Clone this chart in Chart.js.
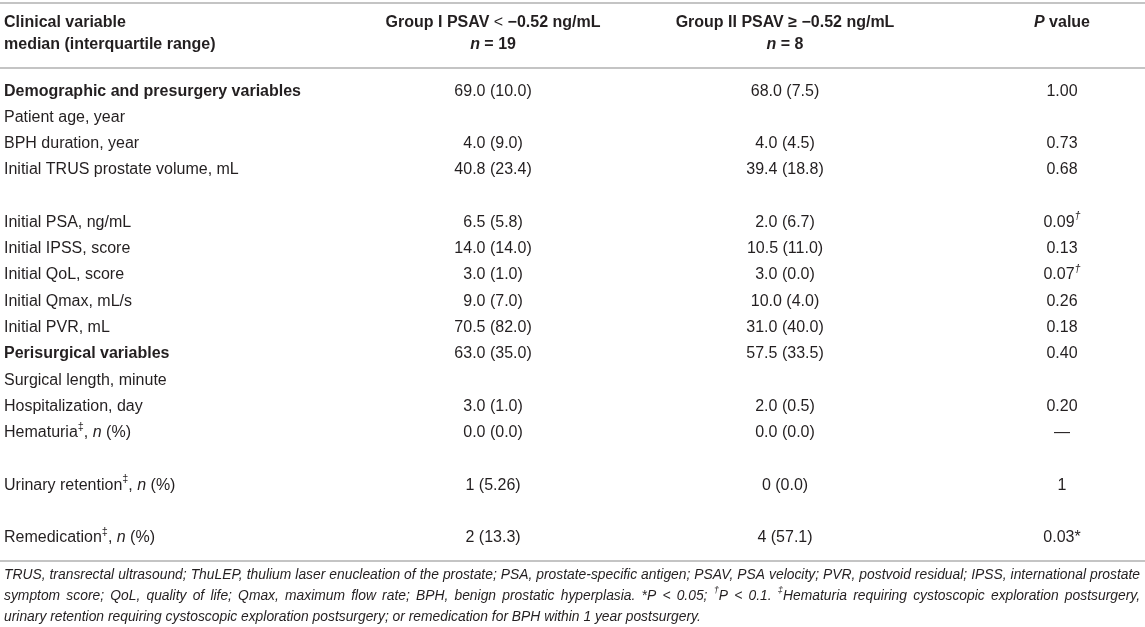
<!DOCTYPE html>
<html>
<head>
<meta charset="utf-8">
<script src="https://cdn.jsdelivr.net/npm/chart.js@4.4.1/dist/chart.umd.min.js"></script>
<style>
  html, body { margin: 0; padding: 0; background: #ffffff; }
  #wrap { width: 1145px; height: 627px; }
</style>
</head>
<body>
<div id="wrap"><canvas id="c" width="1145" height="627"></canvas></div>
<script>
// ---------------- DATA ----------------
// Markup: ~bold toggle~, _italic toggle_, ^superscript^
const columnHeaders = [
  ['Clinical variable', 'median (interquartile range)'],
  ['Group I PSAV ~<~ \u22120.52 ng/mL', '_n_ = 19'],
  ['Group II PSAV \u2265 \u22120.52 ng/mL', '_n_ = 8'],
  ['_P_ value']
];

const variableLabels = [
  ['~Demographic and presurgery variables~', 'Patient age, year'],
  ['BPH duration, year'],
  ['Initial TRUS prostate volume, mL'],
  ['Initial PSA, ng/mL'],
  ['Initial IPSS, score'],
  ['Initial QoL, score'],
  ['Initial Qmax, mL/s'],
  ['Initial PVR, mL'],
  ['~Perisurgical variables~', 'Surgical length, minute'],
  ['Hospitalization, day'],
  ['Hematuria^\u2021^, _n_ (%)'],
  ['Urinary retention^\u2021^, _n_ (%)'],
  ['Remedication^\u2021^, _n_ (%)']
];

const groupI = ['69.0 (10.0)', '4.0 (9.0)', '40.8 (23.4)', '6.5 (5.8)', '14.0 (14.0)', '3.0 (1.0)',
  '9.0 (7.0)', '70.5 (82.0)', '63.0 (35.0)', '3.0 (1.0)', '0.0 (0.0)', '1 (5.26)', '2 (13.3)'];

const groupII = ['68.0 (7.5)', '4.0 (4.5)', '39.4 (18.8)', '2.0 (6.7)', '10.5 (11.0)', '3.0 (0.0)',
  '10.0 (4.0)', '31.0 (40.0)', '57.5 (33.5)', '2.0 (0.5)', '0.0 (0.0)', '0 (0.0)', '4 (57.1)'];

const pValues = ['1.00', '0.73', '0.68', '0.09^_\u2020_^', '0.13', '0.07^_\u2020_^', '0.26', '0.18',
  '0.40', '0.20', '\u2014', '1', '0.03*'];

const footnoteLines = [
  'TRUS, transrectal ultrasound; ThuLEP, thulium laser enucleation of the prostate; PSA, prostate-specific antigen; PSAV, PSA velocity; PVR, postvoid residual; IPSS, international prostate',
  'symptom score; QoL, quality of life; Qmax, maximum flow rate; BPH, benign prostatic hyperplasia. *P < 0.05; ^\u2020^P < 0.1. ^\u2021^Hematuria requiring cystoscopic exploration postsurgery,',
  'urinary retention requiring cystoscopic exploration postsurgery; or remedication for BPH within 1 year postsurgery.'
];

// ---------------- LAYOUT ----------------
const layout = {
  rowLines: [2, 1, 2, 1, 1, 1, 1, 1, 2, 1, 2, 2, 1],   // text lines occupied by each table row
  colAnchor: [0.0035, 0.4306, 0.6856, 0.9275],          // fraction of table width
  colAlign: ['left', 'center', 'center', 'center'],
  font: 'Liberation Sans, Arial, Helvetica, sans-serif',
  bodySize: 16,
  headSize: 16,
  noteSize: 13.85,
  noteWidth: 1136,
  textColor: '#231f20',
  ruleColor: '#c4c4c4'
};

const rowStart = [];
{ let s = 0; layout.rowLines.forEach(n => { rowStart.push(s); s += n; }); }
const totalLines = layout.rowLines.reduce((a, b) => a + b, 0);

// ---------------- RICH TEXT ----------------
function parseRich(str, bold) {
  const segs = [];
  let cur = { t: '', b: bold, i: false, s: false };
  const push = () => { if (cur.t) segs.push(cur); cur = { t: '', b: cur.b, i: cur.i, s: cur.s }; };
  for (const ch of str) {
    if (ch === '~') { push(); cur.b = !cur.b; }
    else if (ch === '_') { push(); cur.i = !cur.i; }
    else if (ch === '^') { push(); cur.s = !cur.s; }
    else cur.t += ch;
  }
  push();
  return segs;
}
function segFont(seg, size, italicBase) {
  const sz = seg.s ? size * 0.68 : size;
  const it = (seg.i !== italicBase) ? 'italic ' : '';
  return it + (seg.b ? 'bold ' : '') + sz.toFixed(2) + 'px ' + layout.font;
}
// draws rich text; if justifyWidth is given, spaces are widened so the line fills it
function drawRich(ctx, str, x, y, align, size, bold, italicBase, justifyWidth) {
  const segs = parseRich(str, bold);
  let w = 0, spaces = 0;
  segs.forEach(sg => {
    ctx.font = segFont(sg, size, italicBase);
    sg.w = ctx.measureText(sg.t).width;
    w += sg.w;
    spaces += (sg.t.match(/ /g) || []).length;
  });
  let extra = 0;
  if (justifyWidth && spaces > 0 && justifyWidth > w) extra = (justifyWidth - w) / spaces;
  let cx = align === 'center' ? x - w / 2 : (align === 'right' ? x - w : x);
  ctx.textAlign = 'left';
  ctx.textBaseline = 'middle';
  segs.forEach(sg => {
    ctx.font = segFont(sg, size, italicBase);
    const yy = sg.s ? y - size * 0.38 : y;
    if (!extra) { ctx.fillText(sg.t, cx, yy); cx += sg.w; return; }
    const parts = sg.t.split(' ');
    const sw = ctx.measureText(' ').width;
    parts.forEach((p, k) => {
      if (p) { ctx.fillText(p, cx, yy); cx += ctx.measureText(p).width; }
      if (k < parts.length - 1) cx += sw + extra;
    });
  });
  return w;
}

// ---------------- TABLE PLUGIN ----------------
const tablePlugin = {
  id: 'tableText',
  afterDatasetsDraw(chart) {
    const ctx = chart.ctx;
    const ca = chart.chartArea;
    const ys = chart.scales.y;
    const xs = chart.scales.x;
    ctx.save();

    // rules
    ctx.fillStyle = layout.ruleColor;
    ctx.fillRect(0, ca.top - 76, chart.width, 2);
    ctx.fillRect(0, ca.top - 11, chart.width, 2);
    ctx.fillRect(0, ca.bottom + 9, chart.width, 2);
    ctx.fillStyle = layout.textColor;

    // headers
    columnHeaders.forEach((lines, c) => {
      const x = xs.getPixelForValue(layout.colAnchor[c]);
      lines.forEach((ln, j) => {
        drawRich(ctx, ln, x, ca.top - 55 + j * 22, layout.colAlign[c], layout.headSize, true, false);
      });
    });

    // body cells, positioned from dataset points
    chart.data.datasets.forEach((ds, di) => {
      const meta = chart.getDatasetMeta(di);
      meta.data.forEach((pt, i) => {
        const cell = ds.cellText[i];
        const lines = Array.isArray(cell) ? cell : [cell];
        lines.forEach((ln, j) => {
          const y = ys.getPixelForValue(ds.data[i].y + j);
          drawRich(ctx, ln, pt.x, y, layout.colAlign[di], layout.bodySize, false, false);
        });
      });
    });

    // footnote: justified paragraph, last line left-aligned
    footnoteLines.forEach((ln, j) => {
      const just = j < footnoteLines.length - 1 ? layout.noteWidth : 0;
      drawRich(ctx, ln, ca.left + 4, ca.bottom + 24 + j * 21, 'left', layout.noteSize, false, true, just);
    });
    ctx.restore();
  }
};

// ---------------- CHART ----------------
const columnsData = [variableLabels, groupI, groupII, pValues];
const datasets = columnsData.map((col, c) => ({
  label: 'col' + c,
  cellText: col,
  data: col.map((_, i) => ({ x: layout.colAnchor[c], y: rowStart[i] })),
  pointRadius: 0,
  pointHoverRadius: 0,
  showLine: false
}));

new Chart(document.getElementById('c'), {
  type: 'scatter',
  data: { datasets },
  options: {
    responsive: false,
    animation: false,
    events: [],
    layout: { padding: { top: 78, bottom: 76, left: 0, right: 0 } },
    plugins: { legend: { display: false }, tooltip: { enabled: false } },
    scales: {
      x: { type: 'linear', display: false, min: 0, max: 1 },
      y: { type: 'linear', display: false, reverse: true, min: -0.5, max: totalLines - 0.5 }
    }
  },
  plugins: [tablePlugin]
});
</script>
</body>
</html>
